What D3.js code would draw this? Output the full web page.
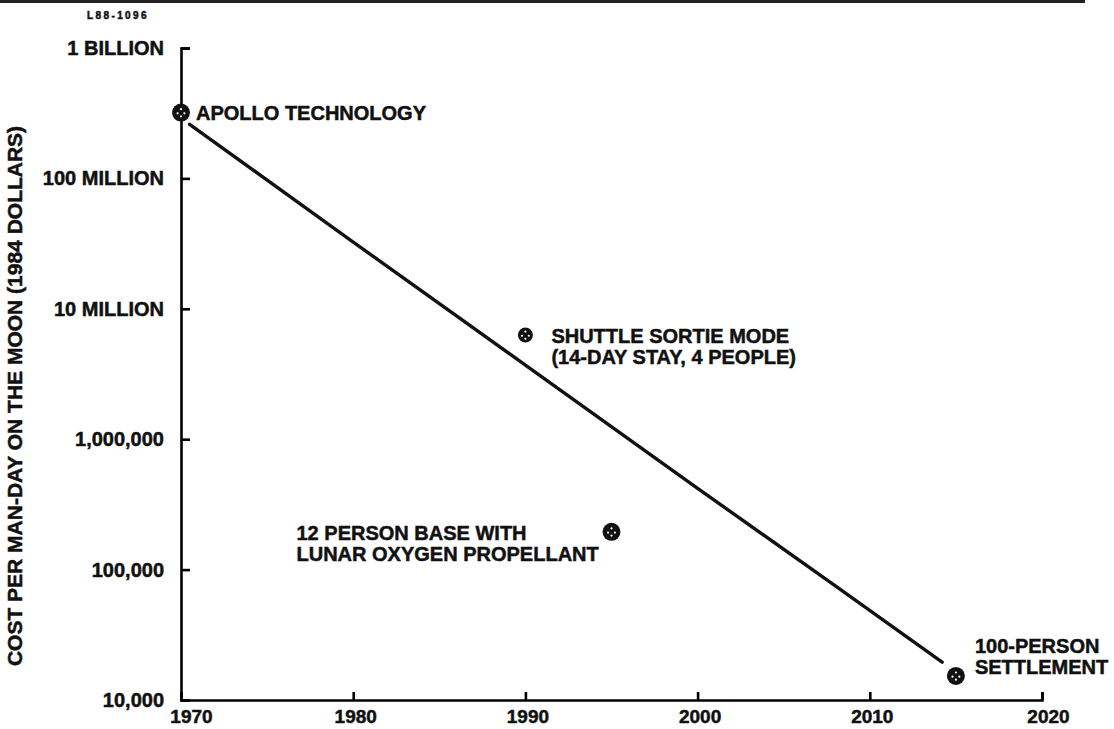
<!DOCTYPE html>
<html>
<head>
<meta charset="utf-8">
<script src="https://cdn.jsdelivr.net/npm/d3@7/dist/d3.min.js"></script>
<style>
  html,body{margin:0;padding:0;background:#fff;}
  text{font-family:"Liberation Sans",Arial,sans-serif;font-weight:bold;fill:#111;stroke:#111;stroke-width:0.5px;}
</style>
</head>
<body>
<div id="chart"></div>
<script>
// cost per man-day trend line (year, 1984 dollars)
var lineYears = [1970.5, 1980, 1990, 2000, 2008, 2014.2];
var lineCosts = [2.6e8, 3.25e7, 3.7e6, 4.2e5, 7.5e4, 1.95e4];

// marked cases
var pointNames = ["APOLLO TECHNOLOGY", "SHUTTLE SORTIE MODE", "12 PERSON BASE", "100-PERSON SETTLEMENT"];
var pointYears = [1970, 1990, 1995, 2015];
var pointCosts = [3.2e8, 6.3e6, 1.95e5, 1.53e4];

var yTicks = [1e4, 1e5, 1e6, 1e7, 1e8, 1e9];
var yLabels = ["10,000", "100,000", "1,000,000", "10 MILLION", "100 MILLION", "1 BILLION"];
var xTicks = [1970, 1980, 1990, 2000, 2010, 2020];
var xLabels = ["1970", "1980", "1990", "2000", "2010", "2020"];

var width = 1114, height = 729;
var svg = d3.select("#chart")
    .append("svg")
    .attr("width", width)
    .attr("height", height);

svg.append("rect").attr("width", width).attr("height", height).attr("fill", "#fff");
// scan edge at top
svg.append("rect").attr("x", 0).attr("y", 0).attr("width", 1085).attr("height", 3).attr("fill", "#222");

var xScale = d3.scaleLinear().domain([1970, 2020]).range([181, 1042]);
var yScale = d3.scaleLog().domain([1e4, 1e9]).range([700, 48]);

var yAxis = d3.axisLeft(yScale)
    .tickValues(yTicks)
    .tickFormat(function(d, i){ return yLabels[i]; })
    .tickSize(-9)
    .tickSizeOuter(-9)
    .tickPadding(17);

var xAxis = d3.axisBottom(xScale)
    .tickValues(xTicks)
    .tickFormat(function(d, i){ return xLabels[i]; })
    .tickSize(-8)
    .tickSizeOuter(-8)
    .tickPadding(10);

var gy = svg.append("g")
    .attr("transform", "translate(" + xScale(1970) + ",0)")
    .attr("stroke-width", 2.6)
    .call(yAxis);
gy.selectAll("text")
    .attr("font-family", "Liberation Sans, Arial, sans-serif")
    .attr("font-weight", "bold")
    .attr("font-size", 20)
    .attr("fill", "#111");

var gx = svg.append("g")
    .attr("transform", "translate(0," + yScale(1e4) + ")")
    .attr("stroke-width", 2.6)
    .call(xAxis);
gx.selectAll("text")
    .attr("font-family", "Liberation Sans, Arial, sans-serif")
    .attr("font-weight", "bold")
    .attr("font-size", 19)
    .attr("fill", "#111")
    .attr("dx", function(d, i){ return i == 0 ? 10 : (i == 5 ? 6 : 2); });

// y axis title
svg.append("text")
    .attr("transform", "translate(22," + 396 + ") rotate(-90)")
    .attr("text-anchor", "middle")
    .attr("font-size", 21)
    .text("COST PER MAN-DAY ON THE MOON (1984 DOLLARS)");

svg.append("text")
    .attr("x", 87)
    .attr("y", 19)
    .attr("font-size", 10)
    .attr("letter-spacing", 2.4)
    .text("L88-1096");

var line = d3.line()
    .x(function(d){ return xScale(d[0]); })
    .y(function(d){ return yScale(d[1]); });

svg.append("path")
    .datum(lineYears.map(function(y, i){ return [y, lineCosts[i]]; }))
    .attr("fill", "none")
    .attr("stroke", "#111")
    .attr("stroke-width", 3.4)
    .attr("stroke-linecap", "round")
    .attr("d", line);

// markers
var pts = pointYears.map(function(y, i){ return {name: pointNames[i], year: y, cost: pointCosts[i]}; });
var mk = svg.append("g").selectAll("g")
    .data(pts)
    .enter()
    .append("g")
    .attr("transform", function(d){ return "translate(" + xScale(d.year) + "," + yScale(d.cost) + ")"; });
mk.append("circle")
    .attr("r", function(d, i){ return i == 1 ? 7.5 : 9; })
    .attr("fill", "#111");
[[0, -3.4], [-3.4, 0.8], [3.4, 0.8], [0, 3.8]].forEach(function(o){
    mk.append("circle")
        .attr("cx", o[0])
        .attr("cy", o[1])
        .attr("r", 1.1)
        .attr("fill", "#fff");
});

// annotation labels
function label(lines, x, y, anchor){
    var t = svg.append("text")
        .attr("font-size", 20)
        .attr("text-anchor", anchor || "start");
    lines.forEach(function(s, i){
        t.append("tspan").attr("x", x).attr("y", y + i * 21).text(s);
    });
}
var p0 = pts[0], p1 = pts[1], p2 = pts[2], p3 = pts[3];
label(["APOLLO TECHNOLOGY"], xScale(p0.year) + 15, yScale(p0.cost) + 7);
label(["SHUTTLE SORTIE MODE", "(14-DAY STAY, 4 PEOPLE)"], xScale(p1.year) + 26, yScale(p1.cost) + 8);
label(["12 PERSON BASE WITH", "LUNAR OXYGEN PROPELLANT"], xScale(p2.year) - 315, yScale(p2.cost) + 8);
label(["100-PERSON", "SETTLEMENT"], xScale(p3.year) + 19, yScale(p3.cost) - 23);
</script>
</body>
</html>
